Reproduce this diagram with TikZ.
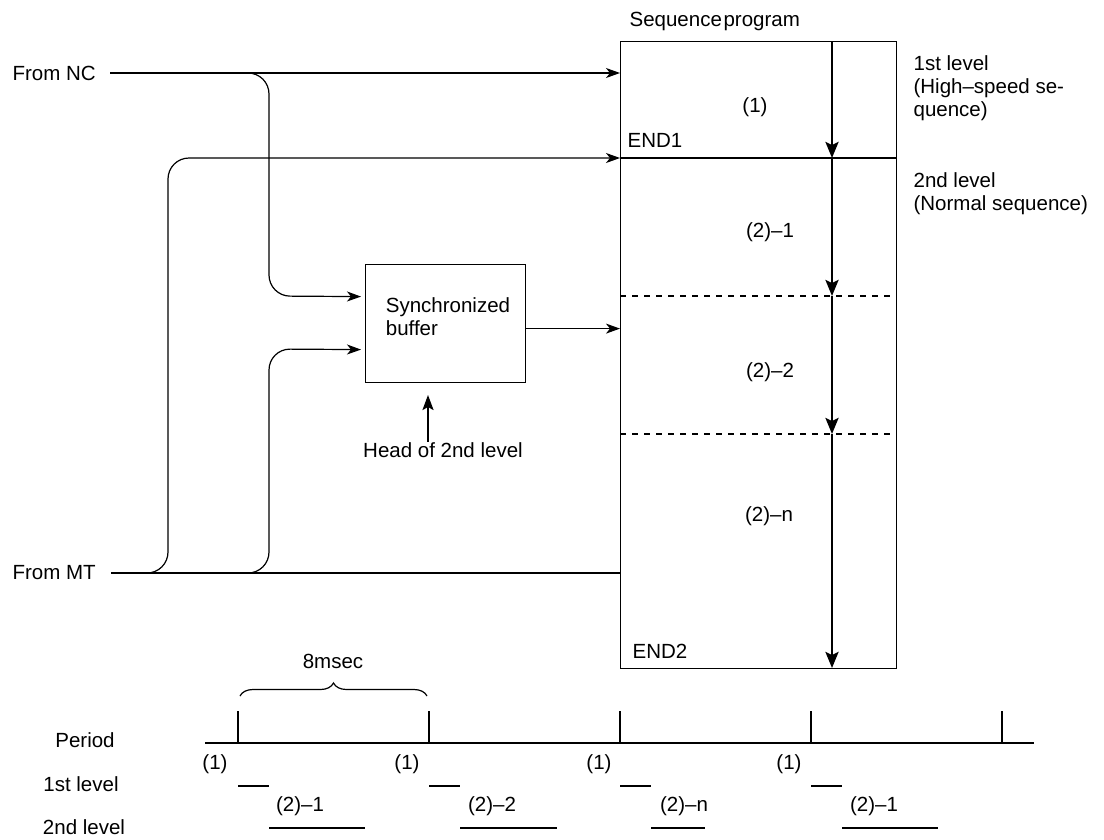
\documentclass[tikz,border=0pt]{standalone}
\usepackage{fontspec}
\setmainfont{Liberation Sans}
\usetikzlibrary{arrows.meta,decorations.pathreplacing,calc}
\begin{document}
\fontsize{20.5}{23}\selectfont\spaceskip=0.2em plus 0.05em\relax
\begin{tikzpicture}[x=1pt,y=-1pt,line width=1.2pt,
  every node/.style={inner sep=0pt},
  inarrow/.style={-{Stealth[length=14pt,width=10pt,inset=4pt]}},
  flowarrow/.style={line width=2.6pt,-{Stealth[length=16pt,width=13pt,inset=3pt]}},
  headarrow/.style={line width=2.2pt,-{Stealth[length=15pt,width=11pt,inset=3pt]}},
  conn/.style={rounded corners=21pt},
  dashline/.style={dash pattern=on 6pt off 6pt},
  box/.style={draw,anchor=north west}]
\useasboundingbox (0,0) rectangle (1104,839);

% sequence program box
\node[box,minimum width=276pt,minimum height=627pt] (seq) at (620,41) {};
\node[anchor=base west] (seqtitle) at (629,26) {Sequence\hspace{0.08em}program};
\coordinate (e1) at (620,158);
\coordinate (d1) at (620,296);
\coordinate (d2) at (620,434);
\draw (e1) -- (e1 -| seq.east);
\draw[dashline] (d1) -- (d1 -| seq.east);
\draw[dashline] (d2) -- (d2 -| seq.east);
\node (p1) at (755,107) {(1)};
\node[anchor=west] (end1) at (627,140) {END1};
\node (p21) at (770,232) {(2)–1};
\node (p22) at (770,372) {(2)–2};
\node (p2n) at (769,516) {(2)–n};
\node[anchor=west] (end2) at (632,651) {END2};

% execution flow
\coordinate (v0) at (832,41);
\coordinate (v1) at (832,158);
\coordinate (v2) at (832,296);
\coordinate (v3) at (832,434);
\coordinate (v4) at (832,668);
\draw[flowarrow] (v0) -- (v1);
\draw[flowarrow] (v1) -- (v2);
\draw[flowarrow] (v2) -- (v3);
\draw[flowarrow] (v3) -- (v4);

% right labels
\node[anchor=base west] (l1a) at (913,70) {1st level};
\node[anchor=base west] (l1b) at (913,93) {(High–speed se-};
\node[anchor=base west] (l1c) at (913,116) {quence)};
\node[anchor=base west] (l2a) at (913,187) {2nd level};
\node[anchor=base west] (l2b) at (913,210) {(Normal sequence)};

% buffer
\node[box,minimum width=160pt,minimum height=118pt] (buf) at (365,264) {};
\node[align=left] (buftext) at (448,317) {Synchronized\\buffer};
\draw[inarrow] ([yshift=-5pt]buf.east) -- ([yshift=-5pt]buf.east -| seq.west);
\node (head) at (443,450) {Head of 2nd level};
\coordinate (htip) at (428,395);
\draw[headarrow] (htip |- head.north) -- (htip);

% From NC
\node[anchor=west] (nc) at (12,73) {From NC};
\draw[inarrow] ([xshift=14pt]nc.east) -- (nc.east -| seq.west);
\coordinate (ncj) at (230,73);
\coordinate (ncc1) at (269,73);
\coordinate (ncc2) at (269,296);
\draw[conn,inarrow,shorten >=4pt] (ncj) -- (ncc1) -- (ncc2) -- ([yshift=27pt]buf.west);

% From MT
\node[anchor=west] (mt) at (12,573) {From MT};
\draw ([xshift=15pt]mt.east) -- (mt.east -| seq.west);
\coordinate (mtj1) at (140,573);
\coordinate (mtc1a) at (168,573);
\coordinate (mtc1b) at (168,158);
\draw[conn,inarrow] (mtj1) -- (mtc1a) -- (mtc1b) -- (mtc1b -| seq.west);
\coordinate (mtj2) at (240,573);
\coordinate (mtc2a) at (269,573);
\coordinate (mtc2b) at (269,349);
\draw[conn,inarrow,shorten >=4pt] (mtj2) -- (mtc2a) -- (mtc2b) -- ([yshift=-26pt]buf.west);

% timeline
\coordinate (ts) at (205,743);
\coordinate (te) at (1034,743);
\coordinate (t1) at (238,743);
\coordinate (t2) at (429,743);
\coordinate (t3) at (620,743);
\coordinate (t4) at (811,743);
\coordinate (t5) at (1002,743);
\draw (ts) -- (te);
\foreach \t in {t1,t2,t3,t4,t5} \draw (\t) -- ++(0,-32);
\draw[decorate,decoration={brace,amplitude=13pt}] (240,696) -- (427,696);
\node[anchor=base] (ms) at (333,668) {8msec};

\node (period) at (85,740) {Period};
\node (lv1) at (81,784) {1st level};
\node (lv2) at (84,827) {2nd level};

\foreach \t/\x in {t1/215,t2/407,t3/599,t4/789} {
  \node (one\t) at (\x,764) {(1)};
  \draw ([yshift=-43pt]\t) -- ++(31,0);
}
\draw ([xshift=31pt,yshift=-85pt]t1) -- ++(96,0);
\draw ([xshift=31pt,yshift=-85pt]t2) -- ++(97,0);
\draw ([xshift=31pt,yshift=-85pt]t3) -- ++(54,0);
\draw ([xshift=31pt,yshift=-85pt]t4) -- ++(96,0);
\node (q1) at (300,806) {(2)–1};
\node (q2) at (492,806) {(2)–2};
\node (q3) at (684,806) {(2)–n};
\node (q4) at (874,806) {(2)–1};
\end{tikzpicture}
\end{document}
